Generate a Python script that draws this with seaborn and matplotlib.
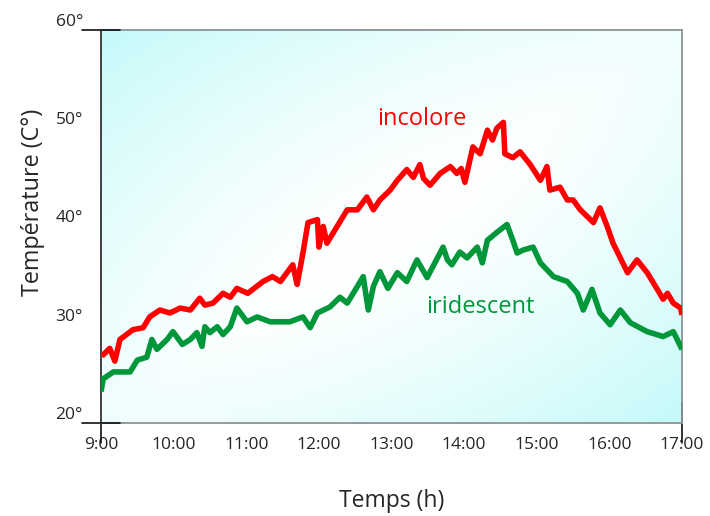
import numpy as np
import pandas as pd
import matplotlib
matplotlib.use("Agg")
import matplotlib.pyplot as plt
import seaborn as sns

# hours (decimal) and temperatures
red_t = [9.01, 9.12, 9.19, 9.26, 9.44, 9.58, 9.67, 9.81, 9.95, 10.09, 10.23, 10.36, 10.43, 10.54,
         10.68, 10.78, 10.87, 11.02, 11.23, 11.36, 11.47, 11.64, 11.70, 11.78, 11.85, 11.98, 12.0,
         12.06, 12.11, 12.25, 12.39, 12.53, 12.66, 12.75, 12.84, 12.98, 13.08, 13.21, 13.30, 13.39,
         13.44, 13.53, 13.67, 13.81, 13.90, 13.96, 14.01, 14.12, 14.22, 14.32, 14.39, 14.45, 14.54,
         14.56, 14.67, 14.77, 14.91, 15.05, 15.14, 15.18, 15.32, 15.42, 15.50, 15.60, 15.78, 15.87,
         15.97, 16.05, 16.25, 16.38, 16.52, 16.66, 16.74, 16.80, 16.88, 16.98, 17.0]
red_v = [26.8, 27.6, 26.3, 28.5, 29.5, 29.7, 30.8, 31.5, 31.2, 31.7, 31.5, 32.7, 32.0, 32.2,
         33.2, 32.8, 33.7, 33.2, 34.4, 34.9, 34.4, 36.1, 34.1, 37.3, 40.4, 40.7, 37.9,
         40.0, 38.3, 40.0, 41.7, 41.7, 43.0, 41.7, 42.7, 43.7, 44.7, 45.8, 45.0, 46.3,
         44.9, 44.2, 45.4, 46.1, 45.4, 45.9, 44.5, 48.1, 47.4, 49.8, 48.8, 50.0, 50.6,
         47.4, 47.0, 47.6, 46.3, 44.7, 46.1, 43.7, 44.0, 42.7, 42.7, 41.7, 40.4, 41.9,
         40.0, 38.3, 35.3, 36.6, 35.3, 33.6, 32.6, 33.2, 32.2, 31.7, 31.0]

green_t = [9.0, 9.03, 9.17, 9.40, 9.50, 9.63, 9.70, 9.77, 9.91, 9.99, 10.12, 10.23, 10.32, 10.39,
           10.43, 10.50, 10.60, 10.68, 10.78, 10.87, 11.01, 11.15, 11.33, 11.60, 11.78, 11.88, 11.98,
           12.15, 12.29, 12.39, 12.53, 12.61, 12.68, 12.75, 12.84, 12.95, 13.08, 13.21, 13.35, 13.49,
           13.71, 13.77, 13.83, 13.94, 14.04, 14.18, 14.25, 14.32, 14.45, 14.59, 14.67, 14.73, 14.81,
           14.95, 15.05, 15.23, 15.42, 15.56, 15.64, 15.76, 15.87, 16.01, 16.15, 16.29, 16.52, 16.74,
           16.88, 16.98, 17.0]
green_v = [23.2, 24.5, 25.2, 25.2, 26.4, 26.7, 28.5, 27.5, 28.5, 29.3, 28.0, 28.5, 29.2, 27.8,
           29.8, 29.2, 29.8, 29.0, 29.8, 31.7, 30.3, 30.8, 30.3, 30.3, 30.8, 29.7, 31.2,
           31.8, 32.8, 32.2, 33.9, 34.9, 31.5, 33.9, 35.4, 33.7, 35.3, 34.4, 36.6, 34.8,
           37.9, 36.6, 36.1, 37.4, 36.8, 37.9, 36.3, 38.6, 39.4, 40.2, 38.6, 37.3, 37.6,
           37.9, 36.3, 34.9, 34.4, 33.2, 31.5, 33.6, 31.2, 30.0, 31.5, 30.2, 29.3, 28.8,
           29.3, 27.8, 27.5]

hour_labels = ["9:00", "10:00", "11:00", "12:00", "13:00", "14:00", "15:00", "16:00", "17:00"]
temp_ticks = [20, 30, 40, 50, 60]

df = pd.concat([
    pd.DataFrame({"t": red_t, "v": red_v, "serie": "incolore"}),
    pd.DataFrame({"t": green_t, "v": green_v, "serie": "iridescent"}),
])

sns.set_style("white")
plt.rcParams["font.family"] = ["Open Sans", "DejaVu Sans"]

fig = plt.figure(figsize=(7.1, 5.16), dpi=100)
ax = fig.add_axes([0.1423, 0.1802, 0.8183, 0.7617])

# background gradient: strong cyan at top-left / bottom-right, pale at the other corners
nx, ny = 200, 150
u = np.linspace(0, 1, nx)[None, :]
w = np.linspace(1, 0, ny)[:, None]
s_diag = np.abs((u + (1 - w)) - 1)
r = np.sqrt((u - 0.5) ** 2 + (w - 0.5) ** 2) / np.sqrt(0.5)
s = np.clip(0.75 * s_diag ** 1.2 + 0.3 * r ** 2, 0, 1)
cyan = np.array([0.78, 0.98, 0.98])
img = 1 - s[..., None] * (1 - cyan)
ax.imshow(img, extent=[9, 17, 20, 60], aspect="auto", zorder=0, interpolation="bilinear")

sns.lineplot(data=df, x="t", y="v", hue="serie", palette={"incolore": "#ff0000", "iridescent": "#00973a"},
             linewidth=4, legend=False, ax=ax, zorder=3, sort=False)
for ln in ax.get_lines():
    ln.set_solid_joinstyle("round")
    ln.set_solid_capstyle("butt")

ax.set_xlim(9, 17)
ax.set_ylim(20, 60)
ax.set_xticks(range(9, 18))
ax.set_xticklabels(hour_labels, fontsize=12.5)
ax.set_yticks(temp_ticks)
ax.set_yticklabels([f"{v}°" for v in temp_ticks], fontsize=12.5, va="bottom")
ax.tick_params(axis="x", length=0, pad=10)
ax.tick_params(axis="y", length=0, pad=13)

for side in ["top", "right", "bottom"]:
    ax.spines[side].set_color("#8a9494")
    ax.spines[side].set_linewidth(1.3)
ax.spines["left"].set_color("#222222")
ax.spines["left"].set_linewidth(1.2)

# small crossing ticks at 20 and 60, drops at the ends of the time axis
tr = ax.get_yaxis_transform()
for yv in [20, 60]:
    ax.plot([-0.032, 0.032], [yv, yv], transform=tr, color="#111111", lw=1.2, clip_on=False, zorder=5)
trx = ax.get_xaxis_transform()
ax.plot([9, 9], [-0.05, 0.0], transform=trx, color="#111111", lw=1.2, clip_on=False)
ax.plot([17, 17], [-0.05, 0.05], transform=trx, color="#111111", lw=1.2, clip_on=False)

ax.set_xlabel("Temps (h)", fontsize=16.5, labelpad=26)
ax.set_ylabel("Température (C°)", fontsize=16.8)
ax.yaxis.set_label_coords(-0.096, 0.562)

ax.text(13.42, 50.9, "incolore", color="#ff0000", fontsize=17, ha="center", va="center")
ax.text(14.22, 31.8, "iridescent", color="#00973a", fontsize=17, ha="center", va="center")

fig.savefig("out.png", dpi=100)
